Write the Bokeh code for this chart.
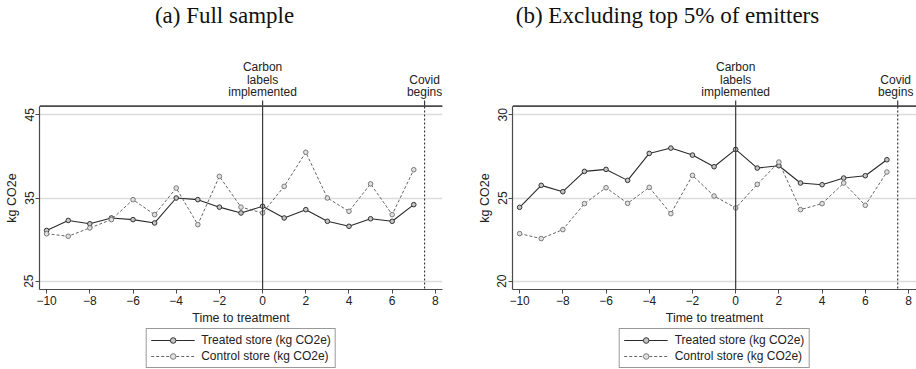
from bokeh.plotting import figure
from bokeh.models import Range1d, LinearAxis, FixedTicker, Span, Legend, LegendItem
from bokeh.layouts import row, column
from bokeh.core.properties import value
from bokeh.embed import file_html
from bokeh.resources import INLINE

# Weeks relative to the carbon-label rollout
weeks = list(range(-10, 8))

# (a) Full sample, kg CO2e per basket
full_treated = [31.1, 32.3, 31.9, 32.6, 32.4, 32.0, 35.0, 34.8, 33.9, 33.2,
                34.0, 32.6, 33.6, 32.2, 31.6, 32.5, 32.2, 34.2]
full_control = [30.7, 30.4, 31.4, 32.4, 34.8, 33.0, 36.2, 31.8, 37.6, 33.9,
                33.2, 36.4, 40.5, 35.0, 33.4, 36.7, 33.0, 38.4]

# (b) Excluding the top 5% of emitters
excl_treated = [24.44, 25.76, 25.38, 26.6, 26.72, 26.06, 27.68, 28.0, 27.58, 26.88,
                27.92, 26.8, 26.94, 25.9, 25.8, 26.2, 26.34, 27.3]
excl_control = [22.86, 22.56, 23.1, 24.66, 25.62, 24.68, 25.64, 24.06, 26.36, 25.12,
                24.4, 25.82, 27.16, 24.3, 24.66, 25.9, 24.56, 26.56]

x_ticks = [-10, -8, -6, -4, -2, 0, 2, 4, 6, 8]
x_tick_labels = ["\u221210", "\u22128", "\u22126", "\u22124", "\u22122", "0", "2", "4", "6", "8"]
full_y_ticks = [25, 35, 45]
excl_y_ticks = [20, 25, 30]

event_x = [0, 7.5]
event_labels = ["Carbon\nlabels\nimplemented", "Covid\nbegins"]

titles = ["(a) Full sample", "(b) Excluding top 5% of emitters"]
series_names = ["Treated store (kg CO2e)", "Control store (kg CO2e)"]

SANS = "Liberation Sans"
SERIF = "Liberation Serif"
AXIS_COLOR = "#4a4a4a"
TEXT_COLOR = "#222222"

PANEL_W = 458
HEAD_H = 106    # captions, event notes, event ticks and top rule
MAIN_H = 222    # plotting frame with its axes
FOOT_H = 41     # legend strip
FRAME_H = 183
X_LO = -10.33

TREATED_STYLE = dict(line_color="#2a2a2a", line_width=1.1)
TREATED_MARK = dict(size=4.6, marker="circle", line_color="#333333", line_width=1,
                    fill_color="#c4c4c4")
CONTROL_STYLE = dict(line_color="#666666", line_width=1, line_dash="3 2")
CONTROL_MARK = dict(size=4.6, marker="circle", line_color="#7a7a7a", line_width=1,
                    fill_color="#e0e0e0")


def strip(height, frame_left, frame_right, x_hi, y_range):
    """A figure without axes whose frame lines up with the panel's frame."""
    s = figure(width=PANEL_W, height=height, output_backend="svg", toolbar_location=None,
               x_range=Range1d(X_LO, x_hi), y_range=y_range,
               x_axis_type=None, y_axis_type=None,
               min_border_left=frame_left, min_border_right=PANEL_W - frame_right,
               min_border_top=0, min_border_bottom=0,
               background_fill_color="white", border_fill_color="white")
    s.outline_line_color = None
    s.grid.visible = False
    return s


def make_panel(title, title_cx, treated, control, y_lo, y_hi, y_ticks,
               frame_left, frame_right, x_hi, note_shift):
    per_px = (x_hi - X_LO) / (frame_right - frame_left)

    # ---- caption, event notes, event ticks and the upper half of the top rule
    head = strip(HEAD_H, frame_left, frame_right, x_hi, Range1d(HEAD_H, 0))
    head.text(x=[X_LO + (title_cx - frame_left) * per_px], y=[15], text=[title],
              text_font=value(SERIF), text_font_size="23px", text_color="#111111",
              text_align="center", text_baseline="middle")
    ex, ey, et, eo = [], [], [], []
    for j, (e, lab) in enumerate(zip(event_x, event_labels)):
        lines = lab.split("\n")
        for i, txt in enumerate(lines):
            ex.append(e)
            ey.append(91.5 - (len(lines) - 1 - i) * 12.5)
            et.append(txt)
            eo.append(note_shift[j])
    head.text(x=ex, y=ey, text=et, x_offset=eo, text_font=value(SANS),
              text_font_size="12px", text_color=TEXT_COLOR,
              text_align="center", text_baseline="middle")
    head.segment(x0=event_x, x1=event_x, y0=[HEAD_H - 6] * len(event_x),
                 y1=[HEAD_H] * len(event_x), line_color="#3a3a3a", line_width=1.2)
    head.segment(x0=[X_LO], x1=[x_hi], y0=[HEAD_H - 0.6], y1=[HEAD_H - 0.6],
                 line_color=AXIS_COLOR, line_width=1.2)

    # ---- main plot
    p = figure(width=PANEL_W, height=MAIN_H, output_backend="svg", toolbar_location=None,
               x_range=Range1d(X_LO, x_hi), y_range=Range1d(y_lo, y_hi),
               min_border_left=frame_left, min_border_right=PANEL_W - frame_right,
               min_border_top=0, min_border_bottom=MAIN_H - FRAME_H,
               background_fill_color="white", border_fill_color="white")
    p.outline_line_color = None
    p.xgrid.visible = False
    p.ygrid.ticker = FixedTicker(ticks=y_ticks)
    p.ygrid.grid_line_color = "#dcdcdc"
    p.ygrid.grid_line_width = 1.5

    xa = p.xaxis[0]
    xa.ticker = FixedTicker(ticks=x_ticks)
    xa.major_label_overrides = {t: s for t, s in zip(x_ticks, x_tick_labels)}
    xa.axis_label = "Time to treatment"
    ya = p.yaxis[0]
    ya.ticker = FixedTicker(ticks=y_ticks)
    ya.major_label_orientation = "vertical"
    ya.axis_label = "kg CO2e"

    for ax in (xa, ya):
        ax.axis_line_color = AXIS_COLOR
        ax.axis_line_width = 1.2
        ax.major_tick_line_color = AXIS_COLOR
        ax.major_tick_out = 4
        ax.major_tick_in = 0
        ax.minor_tick_out = 0
        ax.minor_tick_in = 0
        ax.major_label_text_font = SANS
        ax.major_label_text_font_size = "12px"
        ax.major_label_text_color = TEXT_COLOR
        ax.major_label_standoff = 2
        ax.axis_label_text_font = SANS
        ax.axis_label_text_font_size = "12.5px"
        ax.axis_label_text_font_style = "normal"
        ax.axis_label_text_color = TEXT_COLOR
        ax.axis_label_standoff = 3

    # lower half of the top rule
    top = LinearAxis(ticker=FixedTicker(ticks=[]), axis_line_color=AXIS_COLOR,
                     axis_line_width=1.2, major_tick_out=0, major_tick_in=0,
                     minor_tick_out=0, minor_tick_in=0, major_label_standoff=0)
    p.add_layout(top, "above")

    p.add_layout(Span(location=event_x[0], dimension="height",
                      line_color="#3a3a3a", line_width=1.2))
    p.add_layout(Span(location=event_x[1], dimension="height",
                      line_color="#3a3a3a", line_width=1.2, line_dash="2 2"))

    p.line(weeks, treated, **TREATED_STYLE)
    p.scatter(weeks, treated, **TREATED_MARK)
    p.line(weeks, control, **CONTROL_STYLE)
    p.scatter(weeks, control, **CONTROL_MARK)

    # ---- legend strip (series sit outside this strip's view and serve as legend keys)
    foot = strip(FOOT_H, frame_left, frame_right, x_hi, Range1d(0, 1))
    tl = foot.line(weeks, treated, **TREATED_STYLE)
    ts = foot.scatter(weeks, treated, **TREATED_MARK)
    cl = foot.line(weeks, control, **CONTROL_STYLE)
    cs = foot.scatter(weeks, control, **CONTROL_MARK)
    legend = Legend(items=[LegendItem(label=series_names[0], renderers=[tl, ts]),
                           LegendItem(label=series_names[1], renderers=[cl, cs])],
                    location="top", orientation="vertical")
    legend.border_line_color = "#333333"
    legend.border_line_width = 1
    legend.background_fill_color = "white"
    legend.background_fill_alpha = 1
    legend.label_text_font = SANS
    legend.label_text_font_size = "12px"
    legend.label_text_color = TEXT_COLOR
    legend.glyph_width = 44
    legend.glyph_height = 14
    legend.label_height = 14
    legend.label_standoff = 7
    legend.spacing = 2
    legend.padding = 4
    legend.margin = 0
    foot.add_layout(legend)

    return column(head, p, foot)


left = make_panel(titles[0], 224, full_treated, full_control, 24, 46, full_y_ticks,
                  frame_left=39, frame_right=442, x_hi=8.33, note_shift=[0, 0])
right = make_panel(titles[1], 667 - PANEL_W, excl_treated, excl_control, 19.5, 30.5,
                   excl_y_ticks, frame_left=54, frame_right=458, x_hi=8.37,
                   note_shift=[0, -2])

layout = row(left, right)
open("out.html", "w").write(file_html(layout, INLINE))
